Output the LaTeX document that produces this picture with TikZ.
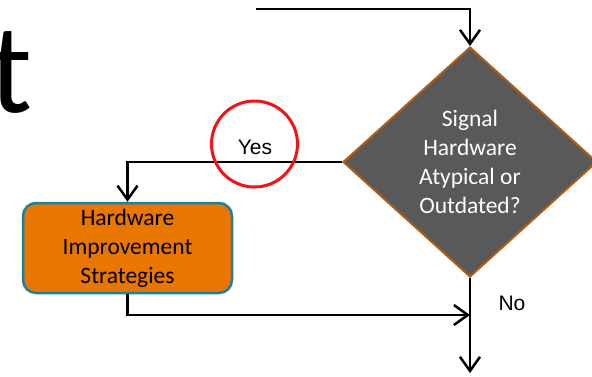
\documentclass[tikz,border=0pt]{standalone}
\usepackage{fontspec}
\setmainfont{Carlito}
\newfontfamily\labelfont{Liberation Sans}
\usetikzlibrary{shapes.geometric,arrows.meta}
\definecolor{decgray}{RGB}{89,89,89}
\definecolor{decrim}{RGB}{178,92,20}
\definecolor{boxorange}{RGB}{232,118,0}
\definecolor{boxrim}{RGB}{30,128,160}
\definecolor{ringred}{RGB}{240,20,20}
\tikzset{
  flow/.style={line width=2.5pt,-{Straight Barb[length=14pt,width=20pt,line width=2.5pt]}},
  boxtext/.style={align=center,font=\fontsize{23.5}{29}\selectfont},
}
\begin{document}
\begin{tikzpicture}[x=1pt,y=-1pt]
      \useasboundingbox (0,0) rectangle (592,376);
      \node[anchor=base west,inner sep=0,font=\fontsize{128}{128}\selectfont](T) at (-11,112) {t};
      \node[diamond,draw=decrim,line width=2pt,fill=decgray,text=white,boxtext,
        minimum width=254pt,minimum height=230pt,inner sep=0](dec) at (470,162)
        {Signal\\Hardware\\Atypical or\\Outdated?};
      \node[rectangle,rounded corners=13pt,draw=boxrim,line width=2.5pt,fill=boxorange,boxtext,
        minimum width=209pt,minimum height=90pt,inner sep=0](hw) at (127.5,248)
        {Hardware\\Improvement\\Strategies};
      \coordinate(in) at (256,9);
      \coordinate(join) at (470,315);
      \coordinate(out) at (470,373);
      \draw[flow](in) -| (dec.north);
      \draw[flow](dec.west) -| (hw.north);
      \draw[flow](hw.south) |- (join);
      \draw[flow](dec.south) -- (out);
      \node[font=\labelfont\fontsize{21}{21}\selectfont](yes) at (255,147) {Yes};
      \node[font=\labelfont\fontsize{21}{21}\selectfont](no) at (512,303) {No};
      \node[circle,draw=ringred,line width=3pt,minimum size=86pt,inner sep=0](ring) at (254.5,144) {};
    \end{tikzpicture}
\end{document}
